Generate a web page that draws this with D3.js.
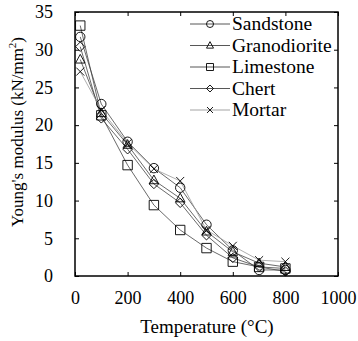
<!DOCTYPE html>
<html><head><meta charset="utf-8">
<script src="https://cdn.jsdelivr.net/npm/d3@7"></script>
<style>
html,body{margin:0;padding:0;background:#fff;}
svg text{font-family:"Liberation Serif","Times New Roman",serif;fill:#000;}
</style></head>
<body><svg id="chart" width="358" height="341"></svg>
<script>
const temperatures = [20, 100, 200, 300, 400, 500, 600, 700, 800];
const sandstone    = [31.7, 22.8, 17.8, 14.3, 11.7, 6.8, 3.4, 0.8, 0.8];
const granodiorite = [28.7, 21.6, 17.4, 12.7, 10.3, 5.9, 3.2, 1.7, 1.2];
const limestone    = [33.2, 21.3, 14.7, 9.4, 6.1, 3.7, 1.9, 1.2, 1.0];
const chert        = [30.4, 20.9, 16.8, 12.2, 9.7, 5.4, 2.4, 1.2, 0.6];
const mortar       = [27.1, 22.0, 17.6, 14.2, 12.6, 6.1, 4.0, 2.1, 1.9];
const seriesNames  = ["Sandstone", "Granodiorite", "Limestone", "Chert", "Mortar"];
const xTicks = [0, 200, 400, 600, 800, 1000];
const yTicks = [0, 5, 10, 15, 20, 25, 30, 35];

const series = [
  {name: seriesNames[0], values: sandstone, marker: "circle", line: "#444"},
  {name: seriesNames[1], values: granodiorite, marker: "triangle", line: "#444"},
  {name: seriesNames[2], values: limestone, marker: "square", line: "#444"},
  {name: seriesNames[3], values: chert, marker: "diamond", line: "#444"},
  {name: seriesNames[4], values: mortar, marker: "cross", line: "#999"}
];

const FONT = '"Liberation Serif","Times New Roman",serif';
const svg = d3.select("#chart");
const L = 75, R = 338, T = 12, B = 276;
const x = d3.scaleLinear().domain([0, 1000]).range([L, R]);
const y = d3.scaleLinear().domain([0, 35]).range([B, T]);

function drawMarker(g, type, cx, cy, s) {
  if (type === "circle") {
    g.append("circle").attr("cx", cx).attr("cy", cy).attr("r", s)
      .attr("fill", "none").attr("stroke", "#000").attr("stroke-width", 0.9);
  } else {
    let d;
    if (type === "triangle") {
      d = `M${cx},${cy - s * 1.1}L${cx + s},${cy + s * 0.75}L${cx - s},${cy + s * 0.75}Z`;
    } else if (type === "square") {
      d = `M${cx - s},${cy - s}H${cx + s}V${cy + s}H${cx - s}Z`;
    } else if (type === "diamond") {
      d = `M${cx},${cy - s}L${cx + s},${cy}L${cx},${cy + s}L${cx - s},${cy}Z`;
    } else {
      const k = s * 0.85;
      d = `M${cx - k},${cy - k}L${cx + k},${cy + k}M${cx - k},${cy + k}L${cx + k},${cy - k}`;
    }
    g.append("path").attr("d", d).attr("fill", "none").attr("stroke", "#000").attr("stroke-width", 0.9);
  }
}

const tickLen = 4;
function styleAxis(g) {
  g.attr("font-family", FONT).attr("font-size", 18);
  g.select(".domain").remove();
  g.selectAll("line").attr("stroke", "#000");
  g.selectAll("text").style("font-family", FONT).style("font-size", "18px");
}
svg.append("g").attr("transform", `translate(0,${B})`)
  .call(d3.axisBottom(x).tickValues(xTicks).tickSize(-tickLen).tickPadding(15).tickFormat(d3.format("d")))
  .call(styleAxis);
svg.append("g").attr("transform", `translate(0,${T})`)
  .call(d3.axisTop(x).tickValues(xTicks).tickSize(-tickLen).tickFormat(""))
  .call(styleAxis);
svg.append("g").attr("transform", `translate(${L},0)`)
  .call(d3.axisLeft(y).tickValues(yTicks).tickSize(-tickLen).tickPadding(22).tickFormat(d3.format("d")))
  .call(styleAxis);
svg.append("g").attr("transform", `translate(${R},0)`)
  .call(d3.axisRight(y).tickValues(yTicks).tickSize(-tickLen).tickFormat(""))
  .call(styleAxis);

svg.append("rect").attr("x", L).attr("y", T).attr("width", R - L).attr("height", B - T)
  .attr("fill", "none").attr("stroke", "#000").attr("stroke-width", 1.5);

const line = d3.line().x((d, i) => x(temperatures[i])).y(d => y(d));
series.forEach(s => {
  svg.append("path").attr("d", line(s.values)).attr("fill", "none")
    .attr("stroke", s.line).attr("stroke-width", 0.8);
});
series.forEach(s => {
  const g = svg.append("g");
  s.values.forEach((v, i) => drawMarker(g, s.marker, x(temperatures[i]), y(v), 4.7));
});

const legY0 = 24, legDy = 21.5;
series.forEach((s, i) => {
  const ly = legY0 + i * legDy;
  const g = svg.append("g");
  g.append("line").attr("x1", 190).attr("x2", 230).attr("y1", ly).attr("y2", ly)
    .attr("stroke", s.line).attr("stroke-width", 0.9);
  drawMarker(g, s.marker, 210, ly, 3.5);
  g.append("text").attr("x", 232).attr("y", ly).attr("dy", "0.33em")
    .style("font-family", FONT).style("font-size", "19.5px").text(s.name);
});

svg.append("text").attr("x", (L + R) / 2 + 0.5).attr("y", 333).attr("text-anchor", "middle")
  .style("font-family", FONT).style("font-size", "19px").text("Temperature (°C)");
const yl = svg.append("text").attr("transform", `translate(23,${132}) rotate(-90)`)
  .attr("text-anchor", "middle").style("font-family", FONT).style("font-size", "17px");
yl.append("tspan").text("Young's modulus (kN/mm");
yl.append("tspan").style("font-size", "11px").attr("dy", -7).text("2");
yl.append("tspan").attr("dy", 7).text(")");
</script></body></html>
